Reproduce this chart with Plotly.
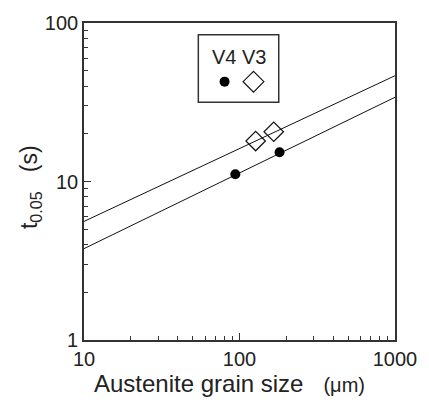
import plotly.graph_objects as go

# Data
v4_grain = [94, 181]          # filled circles
v4_t = [11.1, 15.3]
v3_grain = [127, 166]         # open diamonds
v3_t = [18.0, 20.6]
fit_x = [10, 1000]
v3_fit = [5.6, 46.5]
v4_fit = [3.77, 34.0]

FONT = "Arial, Liberation Sans, sans-serif"
INK = "#222222"

fig = go.Figure()
fig.add_trace(go.Scatter(x=fit_x, y=v3_fit, mode="lines",
                         line=dict(color="#111111", width=1), showlegend=False))
fig.add_trace(go.Scatter(x=fit_x, y=v4_fit, mode="lines",
                         line=dict(color="#111111", width=1), showlegend=False))
fig.add_trace(go.Scatter(x=v3_grain, y=v3_t, mode="markers",
                         marker=dict(symbol="diamond-open", size=15, color="#111111",
                                     line=dict(width=1.2)), showlegend=False))
fig.add_trace(go.Scatter(x=v4_grain, y=v4_t, mode="markers",
                         marker=dict(symbol="circle", size=10, color="#000000"),
                         showlegend=False))

# legend samples on hidden overlay axes (0..1 = plot area)
fig.add_trace(go.Scatter(x=[0.452], y=[0.815], xaxis="x2", yaxis="y2", mode="markers",
                         marker=dict(symbol="circle", size=10, color="#000000"),
                         showlegend=False))
fig.add_trace(go.Scatter(x=[0.545], y=[0.815], xaxis="x2", yaxis="y2", mode="markers",
                         marker=dict(symbol="diamond-open", size=16, color="#111111",
                                     line=dict(width=1.2)), showlegend=False))

minor_x = [v * m for m in (10, 100) for v in range(2, 10)]
minor_y = [v * m for m in (1, 10) for v in range(2, 10)]

axis_common = dict(
    showgrid=False, zeroline=False, showline=True, linecolor="#333333", linewidth=1.6,
    mirror=True, ticks="inside", ticklen=7, tickwidth=1.2, tickcolor="#333333",
    tickfont=dict(family=FONT, size=20, color=INK),
)

fig.update_layout(
    width=429, height=405,
    margin=dict(l=84, r=24, t=16, b=65),
    paper_bgcolor="white", plot_bgcolor="white",
    xaxis=dict(type="log", range=[1, 3], tickvals=[10, 100, 1000],
               ticktext=["10", "100", "1000"],
               minor=dict(tickvals=minor_x, ticks="inside", ticklen=4,
                          tickwidth=1, tickcolor="#333333"),
               **axis_common),
    yaxis=dict(type="log", range=[0, 2], tickvals=[1, 10, 100],
               ticktext=["1", "10", "100"],
               minor=dict(tickvals=minor_y, ticks="inside", ticklen=4,
                          tickwidth=1, tickcolor="#333333"),
               **axis_common),
    xaxis2=dict(overlaying="x", range=[0, 1], visible=False),
    yaxis2=dict(overlaying="y", range=[0, 1], visible=False),
    shapes=[dict(type="rect", xref="paper", yref="paper",
                 x0=(202 - 84) / 321, x1=(285 - 84) / 321,
                 y0=(340 - 97) / 324, y1=(340 - 28) / 324,
                 line=dict(color="#333333", width=1.5))],
    annotations=[
        dict(text="V4 V3", xref="paper", yref="paper",
             x=(244 - 84) / 321, y=(340 - 51) / 324, xanchor="center", yanchor="middle",
             showarrow=False, font=dict(family=FONT, size=20, color=INK)),
        dict(text="t<sub>0.05</sub>&nbsp;&nbsp;&nbsp;(s)", xref="paper", yref="paper",
             x=(29 - 84) / 321, y=(340 - 184) / 324, xanchor="center", yanchor="middle",
             textangle=-90, showarrow=False, font=dict(family=FONT, size=23, color=INK)),
        dict(text="Austenite grain size&nbsp;&nbsp;&nbsp;<span style='font-size:20px'>(\u03bcm)</span>",
             xref="paper", yref="paper",
             x=(92 - 84) / 321, y=(340 - 384) / 324, xanchor="left", yanchor="middle",
             showarrow=False, font=dict(family=FONT, size=24, color=INK)),
    ],
)

fig.write_html("out.html")
